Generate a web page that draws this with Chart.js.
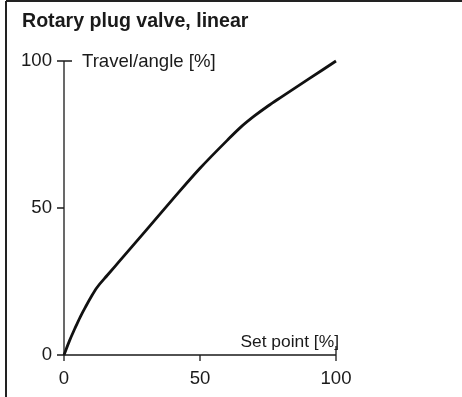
<!DOCTYPE html>
<html>
<head>
<meta charset="utf-8">
<script src="https://cdn.jsdelivr.net/npm/chart.js@4/dist/chart.umd.min.js"></script>
<style>
  html, body { margin: 0; padding: 0; background: #fff; overflow: hidden; }
  canvas { display: block; }
</style>
</head>
<body>
<canvas id="c" width="462" height="397"></canvas>
<script>
// Characteristic of a rotary plug valve with linear characteristic
const titleText = 'Rotary plug valve, linear';
const xTitle = 'Set point [%]';
const yTitle = 'Travel/angle [%]';

const setPoint = [0, 2, 4, 6, 8, 10, 12, 16, 20, 30, 40, 50, 60, 65, 70, 75, 80, 90, 100];
const travel   = [0, 4.8, 9, 13, 16.5, 19.8, 22.8, 27.2, 31.5, 42.2, 53, 63.5, 73, 77.5, 81.3, 84.7, 87.8, 93.9, 100];

const xTicks = [0, 50, 100];
const yTicks = [0, 50, 100];

const FONT = '"Liberation Sans", Arial, sans-serif';
const INK = '#1a1a1a';

// Axes, ticks, labels and frame drawn from the chart's own scales
const axesPlugin = {
  id: 'plainAxes',
  beforeDraw(chart) {
    const ctx = chart.ctx;
    const xs = chart.scales.x, ys = chart.scales.y;
    ctx.save();
    ctx.fillStyle = '#fff';
    ctx.fillRect(0, 0, chart.width, chart.height);

    // frame on top and left
    ctx.strokeStyle = '#222';
    ctx.lineWidth = 2;
    ctx.beginPath();
    ctx.moveTo(6, 1); ctx.lineTo(chart.width, 1);
    ctx.moveTo(6, 1); ctx.lineTo(6, chart.height);
    ctx.stroke();

    // title
    ctx.fillStyle = INK;
    ctx.font = 'bold 19.6px ' + FONT;
    ctx.textAlign = 'left';
    ctx.textBaseline = 'alphabetic';
    ctx.fillText(titleText, 22, 27);

    const x0 = xs.getPixelForValue(0), y0 = ys.getPixelForValue(0);
    const xMax = xs.getPixelForValue(100), yMax = ys.getPixelForValue(100);

    ctx.strokeStyle = INK;
    ctx.lineWidth = 1.3;
    ctx.beginPath();
    ctx.moveTo(x0, y0); ctx.lineTo(xMax, y0);
    ctx.moveTo(x0, y0); ctx.lineTo(x0, yMax);
    // y ticks
    yTicks.forEach(v => {
      const py = ys.getPixelForValue(v);
      ctx.moveTo(x0 - 7, py);
      ctx.lineTo(v === 100 ? x0 + 8 : x0, py);
    });
    // x ticks
    xTicks.forEach(v => {
      const px = xs.getPixelForValue(v);
      ctx.moveTo(px, v === 100 ? y0 - 9 : y0);
      ctx.lineTo(px, y0 + 6);
    });
    ctx.stroke();

    ctx.font = '18.6px ' + FONT;
    ctx.textBaseline = 'middle';
    ctx.textAlign = 'right';
    yTicks.forEach(v => ctx.fillText(String(v), x0 - 12, ys.getPixelForValue(v)));
    ctx.textAlign = 'center';
    xTicks.forEach(v => ctx.fillText(String(v), xs.getPixelForValue(v), y0 + 24));

    ctx.textAlign = 'left';
    ctx.fillText(yTitle, x0 + 18, yMax + 1);
    ctx.font = '17.4px ' + FONT;
    ctx.textAlign = 'right';
    ctx.fillText(xTitle, xMax + 3, y0 - 13);
    ctx.restore();
  }
};

new Chart(document.getElementById('c'), {
  type: 'line',
  data: {
    labels: setPoint,
    datasets: [{
      data: setPoint.map((x, i) => ({ x: x, y: travel[i] })),
      borderColor: '#111',
      borderWidth: 2.8,
      pointRadius: 0,
      cubicInterpolationMode: 'monotone',
      fill: false,
      clip: false
    }]
  },
  options: {
    responsive: false,
    animation: false,
    devicePixelRatio: 1,
    layout: { padding: { left: 64, right: 126, top: 61, bottom: 42 } },
    plugins: { legend: { display: false }, tooltip: { enabled: false }, title: { display: false } },
    scales: {
      x: { type: 'linear', min: 0, max: 100, display: false },
      y: { type: 'linear', min: 0, max: 100, display: false }
    }
  },
  plugins: [axesPlugin]
});
</script>
</body>
</html>
